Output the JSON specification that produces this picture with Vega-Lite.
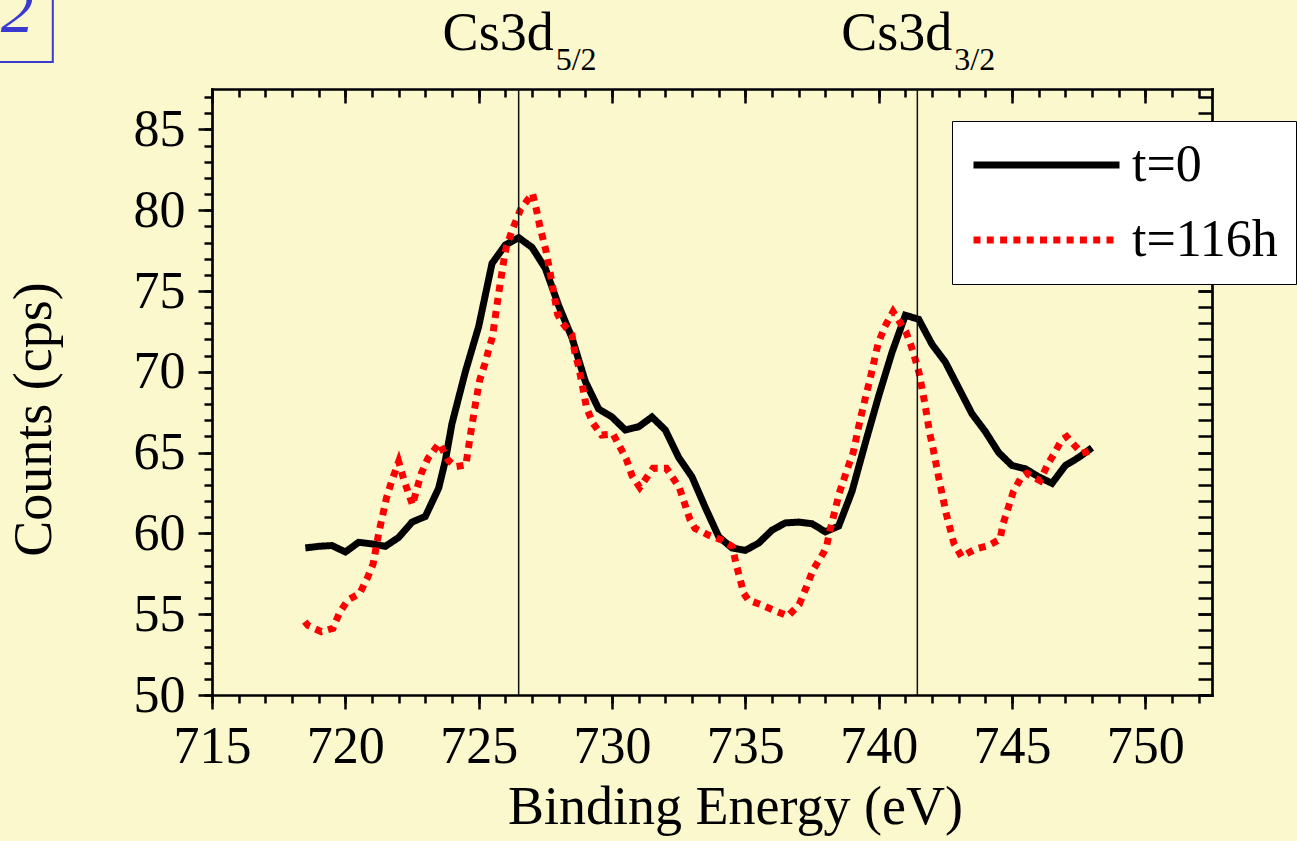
{
  "$schema": "https://vega.github.io/schema/vega-lite/v6.json",
  "width": 1000,
  "height": 606,
  "autosize": {"type": "none"},
  "padding": {"left": 212, "top": 89, "right": 85, "bottom": 146},
  "background": "#FBF8CD",
  "config": {
    "view": {"stroke": null},
    "font": "Liberation Serif",
    "axis": {
      "grid": false,
      "labelFont": "Liberation Serif",
      "titleFont": "Liberation Serif",
      "labelColor": "#000",
      "titleColor": "#000",
      "tickColor": "#000",
      "domainColor": "#000",
      "tickWidth": 2.5,
      "domainWidth": 2.7,
      "domainCap": "square",
      "labelFontSize": 52,
      "titleFontSize": 54,
      "titleFontWeight": "normal",
      "labelFlush": false,
      "labelOverlap": false,
      "labelBound": false
    },
    "legend": {
      "labelFont": "Liberation Serif",
      "labelFontSize": 52,
      "labelColor": "#000",
      "labelLimit": 0
    }
  },
  "datasets": {
    "spectra": [
      {"E": 718.5, "C": 59.1, "series": "t=0"},
      {"E": 719.0, "C": 59.2, "series": "t=0"},
      {"E": 719.5, "C": 59.25, "series": "t=0"},
      {"E": 720.0, "C": 58.85, "series": "t=0"},
      {"E": 720.5, "C": 59.45, "series": "t=0"},
      {"E": 721.0, "C": 59.35, "series": "t=0"},
      {"E": 721.5, "C": 59.2, "series": "t=0"},
      {"E": 722.0, "C": 59.75, "series": "t=0"},
      {"E": 722.5, "C": 60.7, "series": "t=0"},
      {"E": 723.0, "C": 61.05, "series": "t=0"},
      {"E": 723.5, "C": 62.8, "series": "t=0"},
      {"E": 723.75, "C": 64.5, "series": "t=0"},
      {"E": 724.0, "C": 66.8, "series": "t=0"},
      {"E": 724.5, "C": 70.0, "series": "t=0"},
      {"E": 725.0, "C": 72.8, "series": "t=0"},
      {"E": 725.5, "C": 76.7, "series": "t=0"},
      {"E": 726.0, "C": 77.85, "series": "t=0"},
      {"E": 726.5, "C": 78.3, "series": "t=0"},
      {"E": 727.0, "C": 77.7, "series": "t=0"},
      {"E": 727.5, "C": 76.4, "series": "t=0"},
      {"E": 728.0, "C": 74.1, "series": "t=0"},
      {"E": 728.5, "C": 72.1, "series": "t=0"},
      {"E": 729.0, "C": 69.4, "series": "t=0"},
      {"E": 729.5, "C": 67.7, "series": "t=0"},
      {"E": 730.0, "C": 67.2, "series": "t=0"},
      {"E": 730.5, "C": 66.4, "series": "t=0"},
      {"E": 731.0, "C": 66.6, "series": "t=0"},
      {"E": 731.5, "C": 67.2, "series": "t=0"},
      {"E": 732.0, "C": 66.4, "series": "t=0"},
      {"E": 732.5, "C": 64.7, "series": "t=0"},
      {"E": 733.0, "C": 63.5, "series": "t=0"},
      {"E": 733.5, "C": 61.6, "series": "t=0"},
      {"E": 734.0, "C": 59.8, "series": "t=0"},
      {"E": 734.5, "C": 59.1, "series": "t=0"},
      {"E": 735.0, "C": 58.95, "series": "t=0"},
      {"E": 735.5, "C": 59.4, "series": "t=0"},
      {"E": 736.0, "C": 60.2, "series": "t=0"},
      {"E": 736.5, "C": 60.65, "series": "t=0"},
      {"E": 737.0, "C": 60.7, "series": "t=0"},
      {"E": 737.5, "C": 60.6, "series": "t=0"},
      {"E": 738.0, "C": 60.1, "series": "t=0"},
      {"E": 738.5, "C": 60.45, "series": "t=0"},
      {"E": 739.0, "C": 62.6, "series": "t=0"},
      {"E": 739.5, "C": 65.6, "series": "t=0"},
      {"E": 740.0, "C": 68.5, "series": "t=0"},
      {"E": 740.5, "C": 71.2, "series": "t=0"},
      {"E": 741.0, "C": 73.5, "series": "t=0"},
      {"E": 741.5, "C": 73.25, "series": "t=0"},
      {"E": 742.0, "C": 71.7, "series": "t=0"},
      {"E": 742.5, "C": 70.6, "series": "t=0"},
      {"E": 743.0, "C": 69.0, "series": "t=0"},
      {"E": 743.5, "C": 67.4, "series": "t=0"},
      {"E": 744.0, "C": 66.3, "series": "t=0"},
      {"E": 744.5, "C": 65.0, "series": "t=0"},
      {"E": 745.0, "C": 64.2, "series": "t=0"},
      {"E": 745.5, "C": 64.0, "series": "t=0"},
      {"E": 746.0, "C": 63.5, "series": "t=0"},
      {"E": 746.5, "C": 63.1, "series": "t=0"},
      {"E": 747.0, "C": 64.2, "series": "t=0"},
      {"E": 747.5, "C": 64.7, "series": "t=0"},
      {"E": 748.0, "C": 65.3, "series": "t=0"},
      {"E": 718.48, "C": 54.54, "series": "t=116h"},
      {"E": 718.6, "C": 54.3, "series": "t=116h"},
      {"E": 719.1, "C": 53.92, "series": "t=116h"},
      {"E": 719.54, "C": 54.13, "series": "t=116h"},
      {"E": 719.79, "C": 55.12, "series": "t=116h"},
      {"E": 720.1, "C": 55.88, "series": "t=116h"},
      {"E": 720.54, "C": 56.29, "series": "t=116h"},
      {"E": 720.82, "C": 57.22, "series": "t=116h"},
      {"E": 721.04, "C": 58.1, "series": "t=116h"},
      {"E": 721.25, "C": 60.0, "series": "t=116h"},
      {"E": 721.54, "C": 62.17, "series": "t=116h"},
      {"E": 721.73, "C": 63.2, "series": "t=116h"},
      {"E": 722.0, "C": 64.44, "series": "t=116h"},
      {"E": 722.19, "C": 63.35, "series": "t=116h"},
      {"E": 722.52, "C": 61.76, "series": "t=116h"},
      {"E": 722.69, "C": 62.79, "series": "t=116h"},
      {"E": 722.85, "C": 63.72, "series": "t=116h"},
      {"E": 723.1, "C": 64.65, "series": "t=116h"},
      {"E": 723.52, "C": 65.58, "series": "t=116h"},
      {"E": 723.85, "C": 64.54, "series": "t=116h"},
      {"E": 724.14, "C": 64.13, "series": "t=116h"},
      {"E": 724.52, "C": 64.23, "series": "t=116h"},
      {"E": 724.7, "C": 66.19, "series": "t=116h"},
      {"E": 724.89, "C": 68.13, "series": "t=116h"},
      {"E": 725.04, "C": 69.49, "series": "t=116h"},
      {"E": 725.23, "C": 70.48, "series": "t=116h"},
      {"E": 725.39, "C": 71.45, "series": "t=116h"},
      {"E": 725.52, "C": 72.17, "series": "t=116h"},
      {"E": 725.6, "C": 73.14, "series": "t=116h"},
      {"E": 725.77, "C": 75.06, "series": "t=116h"},
      {"E": 725.95, "C": 76.96, "series": "t=116h"},
      {"E": 726.04, "C": 77.74, "series": "t=116h"},
      {"E": 726.25, "C": 78.73, "series": "t=116h"},
      {"E": 726.57, "C": 80.05, "series": "t=116h"},
      {"E": 727.02, "C": 81.04, "series": "t=116h"},
      {"E": 727.17, "C": 80.01, "series": "t=116h"},
      {"E": 727.29, "C": 79.03, "series": "t=116h"},
      {"E": 727.42, "C": 78.16, "series": "t=116h"},
      {"E": 727.54, "C": 77.37, "series": "t=116h"},
      {"E": 727.75, "C": 75.48, "series": "t=116h"},
      {"E": 727.96, "C": 73.56, "series": "t=116h"},
      {"E": 728.1, "C": 73.1, "series": "t=116h"},
      {"E": 728.5, "C": 72.28, "series": "t=116h"},
      {"E": 728.6, "C": 71.24, "series": "t=116h"},
      {"E": 728.75, "C": 70.32, "series": "t=116h"},
      {"E": 728.98, "C": 68.36, "series": "t=116h"},
      {"E": 729.04, "C": 67.8, "series": "t=116h"},
      {"E": 729.29, "C": 66.81, "series": "t=116h"},
      {"E": 729.61, "C": 66.09, "series": "t=116h"},
      {"E": 730.04, "C": 66.15, "series": "t=116h"},
      {"E": 730.36, "C": 65.16, "series": "t=116h"},
      {"E": 730.54, "C": 64.58, "series": "t=116h"},
      {"E": 730.75, "C": 63.57, "series": "t=116h"},
      {"E": 731.04, "C": 62.85, "series": "t=116h"},
      {"E": 731.54, "C": 64.03, "series": "t=116h"},
      {"E": 732.04, "C": 64.03, "series": "t=116h"},
      {"E": 732.52, "C": 62.85, "series": "t=116h"},
      {"E": 732.73, "C": 61.82, "series": "t=116h"},
      {"E": 732.92, "C": 60.87, "series": "t=116h"},
      {"E": 733.11, "C": 60.31, "series": "t=116h"},
      {"E": 733.61, "C": 59.9, "series": "t=116h"},
      {"E": 734.11, "C": 59.59, "series": "t=116h"},
      {"E": 734.52, "C": 59.18, "series": "t=116h"},
      {"E": 734.64, "C": 58.19, "series": "t=116h"},
      {"E": 734.79, "C": 57.26, "series": "t=116h"},
      {"E": 734.94, "C": 56.29, "series": "t=116h"},
      {"E": 735.11, "C": 55.88, "series": "t=116h"},
      {"E": 735.61, "C": 55.57, "series": "t=116h"},
      {"E": 736.04, "C": 55.26, "series": "t=116h"},
      {"E": 736.6, "C": 54.89, "series": "t=116h"},
      {"E": 737.02, "C": 55.6, "series": "t=116h"},
      {"E": 737.27, "C": 56.6, "series": "t=116h"},
      {"E": 737.54, "C": 57.74, "series": "t=116h"},
      {"E": 737.92, "C": 58.77, "series": "t=116h"},
      {"E": 738.05, "C": 59.22, "series": "t=116h"},
      {"E": 738.17, "C": 60.17, "series": "t=116h"},
      {"E": 738.32, "C": 61.14, "series": "t=116h"},
      {"E": 738.52, "C": 62.48, "series": "t=116h"},
      {"E": 738.73, "C": 63.51, "series": "t=116h"},
      {"E": 738.92, "C": 64.44, "series": "t=116h"},
      {"E": 739.04, "C": 64.98, "series": "t=116h"},
      {"E": 739.29, "C": 66.91, "series": "t=116h"},
      {"E": 739.54, "C": 68.66, "series": "t=116h"},
      {"E": 739.67, "C": 69.49, "series": "t=116h"},
      {"E": 739.98, "C": 71.76, "series": "t=116h"},
      {"E": 740.23, "C": 72.79, "series": "t=116h"},
      {"E": 740.54, "C": 73.72, "series": "t=116h"},
      {"E": 741.02, "C": 72.48, "series": "t=116h"},
      {"E": 741.23, "C": 71.55, "series": "t=116h"},
      {"E": 741.42, "C": 70.51, "series": "t=116h"},
      {"E": 741.52, "C": 69.9, "series": "t=116h"},
      {"E": 741.73, "C": 68.05, "series": "t=116h"},
      {"E": 741.92, "C": 66.15, "series": "t=116h"},
      {"E": 742.02, "C": 65.43, "series": "t=116h"},
      {"E": 742.25, "C": 63.47, "series": "t=116h"},
      {"E": 742.52, "C": 61.31, "series": "t=116h"},
      {"E": 742.82, "C": 59.39, "series": "t=116h"},
      {"E": 743.11, "C": 58.56, "series": "t=116h"},
      {"E": 743.61, "C": 59.02, "series": "t=116h"},
      {"E": 744.11, "C": 59.24, "series": "t=116h"},
      {"E": 744.55, "C": 59.64, "series": "t=116h"},
      {"E": 744.67, "C": 60.62, "series": "t=116h"},
      {"E": 744.86, "C": 61.59, "series": "t=116h"},
      {"E": 745.05, "C": 62.58, "series": "t=116h"},
      {"E": 745.36, "C": 63.51, "series": "t=116h"},
      {"E": 745.55, "C": 63.72, "series": "t=116h"},
      {"E": 746.05, "C": 63.26, "series": "t=116h"},
      {"E": 746.36, "C": 64.34, "series": "t=116h"},
      {"E": 746.55, "C": 64.85, "series": "t=116h"},
      {"E": 746.86, "C": 65.78, "series": "t=116h"},
      {"E": 747.05, "C": 65.99, "series": "t=116h"},
      {"E": 747.61, "C": 64.96, "series": "t=116h"},
      {"E": 747.98, "C": 65.12, "series": "t=116h"}
    ],
    "peaks": [
      {"E": 726.5, "level": "Cs3d", "j": "5/2"},
      {"E": 741.45, "level": "Cs3d", "j": "3/2"}
    ],
    "panel": [
      {"label": "2"}
    ]
  },
  "layer": [
    {
      "data": {"name": "spectra"},
      "mark": {"type": "line", "strokeWidth": 7, "strokeCap": "butt"},
      "encoding": {
        "x": {
          "field": "E", "type": "quantitative",
          "scale": {"domain": [715, 752.5], "nice": false, "zero": false},
          "axis": {
            "orient": "bottom",
            "values": [715, 720, 725, 730, 735, 740, 745, 750],
            "format": "d",
            "tickSize": 14,
            "labelPadding": 12,
            "title": "Binding Energy (eV)",
            "titleX": 523,
            "titleY": 128,
            "titleAlign": "center",
            "titleBaseline": "alphabetic"
          }
        },
        "y": {
          "field": "C", "type": "quantitative",
          "scale": {"domain": [50, 87.5], "nice": false, "zero": false},
          "axis": {
            "orient": "left",
            "values": [50, 55, 60, 65, 70, 75, 80, 85],
            "format": "d",
            "tickSize": 14,
            "labelPadding": 13,
            "title": "Counts (cps)",
            "titleX": -162,
            "titleY": 330,
            "titleAngle": 270,
            "titleAlign": "center",
            "titleBaseline": "alphabetic"
          }
        },
        "color": {
          "field": "series", "type": "nominal",
          "scale": {"domain": ["t=0", "t=116h"], "range": ["#000000", "#FF0000"]},
          "legend": {
            "title": null,
            "orient": "none",
            "legendX": 740,
            "legendY": 32,
            "direction": "vertical",
            "fillColor": "#FFFFFF",
            "strokeColor": "#000000",
            "padding": 18,
            "symbolType": "stroke",
            "symbolSize": 21316,
            "symbolStrokeWidth": 7,
            "clipHeight": 52,
            "rowPadding": 23,
            "labelOffset": 9
          }
        },
        "strokeDash": {
          "field": "series", "type": "nominal",
          "scale": {"domain": ["t=0", "t=116h"], "range": [[1, 0], [7, 6.3]]},
          "legend": {
            "title": null,
            "orient": "none",
            "legendX": 740,
            "legendY": 32,
            "direction": "vertical",
            "fillColor": "#FFFFFF",
            "strokeColor": "#000000",
            "padding": 18,
            "symbolType": "stroke",
            "symbolSize": 21316,
            "symbolStrokeWidth": 7,
            "clipHeight": 52,
            "rowPadding": 23,
            "labelOffset": 9
          }
        }
      }
    },
    {
      "data": {"name": "peaks"},
      "mark": {"type": "rule", "color": "#111111", "strokeWidth": 1.5},
      "encoding": {
        "x": {
          "field": "E", "type": "quantitative",
          "scale": {"domain": [715, 752.5], "nice": false, "zero": false},
          "axis": {
            "orient": "top",
            "values": [715, 720, 725, 730, 735, 740, 745, 750],
            "tickSize": -14,
            "labels": false,
            "title": null
          }
        },
        "y": {
          "datum": 50, "type": "quantitative",
          "scale": {"domain": [50, 87.5], "nice": false, "zero": false},
          "axis": {
            "orient": "right",
            "values": [50, 55, 60, 65, 70, 75, 80, 85],
            "tickSize": -14,
            "labels": false,
            "title": null
          }
        },
        "y2": {"datum": 87.5}
      }
    },
    {
      "data": {"name": "peaks"},
      "mark": {"type": "text", "align": "right", "baseline": "alphabetic", "dx": 35, "fontSize": 54, "font": "Liberation Serif", "color": "#000000"},
      "encoding": {
        "x": {
          "field": "E", "type": "quantitative",
          "scale": {"domain": [715, 752.5], "nice": false, "zero": false},
          "axis": {
            "orient": "top",
            "values": [715, 716, 717, 718, 719, 720, 721, 722, 723, 724, 725, 726, 727, 728, 729, 730, 731, 732, 733, 734, 735, 736, 737, 738, 739, 740, 741, 742, 743, 744, 745, 746, 747, 748, 749, 750, 751, 752],
            "tickSize": -8,
            "labels": false,
            "domain": false,
            "title": null
          }
        },
        "y": {
          "datum": 89.9, "type": "quantitative",
          "scale": {"domain": [50, 87.5], "nice": false, "zero": false},
          "axis": {
            "orient": "right",
            "values": [50, 51, 52, 53, 54, 55, 56, 57, 58, 59, 60, 61, 62, 63, 64, 65, 66, 67, 68, 69, 70, 71, 72, 73, 74, 75, 76, 77, 78, 79, 80, 81, 82, 83, 84, 85, 86, 87],
            "tickSize": -14,
            "labels": false,
            "domain": false,
            "title": null
          }
        },
        "text": {"field": "level"}
      }
    },
    {
      "data": {"name": "peaks"},
      "mark": {"type": "text", "align": "left", "baseline": "alphabetic", "dx": 37, "fontSize": 32, "font": "Liberation Serif", "color": "#000000"},
      "encoding": {
        "x": {
          "field": "E", "type": "quantitative",
          "scale": {"domain": [715, 752.5], "nice": false, "zero": false},
          "axis": {
            "orient": "bottom",
            "values": [715, 716, 717, 718, 719, 720, 721, 722, 723, 724, 725, 726, 727, 728, 729, 730, 731, 732, 733, 734, 735, 736, 737, 738, 739, 740, 741, 742, 743, 744, 745, 746, 747, 748, 749, 750, 751, 752],
            "tickSize": 8,
            "labels": false,
            "domain": false,
            "title": null
          }
        },
        "y": {
          "datum": 88.65, "type": "quantitative",
          "scale": {"domain": [50, 87.5], "nice": false, "zero": false},
          "axis": {
            "orient": "left",
            "values": [50, 51, 52, 53, 54, 55, 56, 57, 58, 59, 60, 61, 62, 63, 64, 65, 66, 67, 68, 69, 70, 71, 72, 73, 74, 75, 76, 77, 78, 79, 80, 81, 82, 83, 84, 85, 86, 87],
            "tickSize": 8,
            "labels": false,
            "domain": false,
            "title": null
          }
        },
        "text": {"field": "j"}
      }
    },
    {
      "data": {"name": "panel"},
      "mark": {"type": "rect", "fill": null, "fillOpacity": 0, "stroke": "#3A3AD0", "strokeWidth": 2},
      "encoding": {
        "x": {"datum": 700, "type": "quantitative", "scale": {"domain": [715, 752.5], "nice": false, "zero": false}, "axis": null},
        "x2": {"datum": 709.03},
        "y": {"datum": 89.17, "type": "quantitative", "scale": {"domain": [50, 87.5], "nice": false, "zero": false}, "axis": null},
        "y2": {"datum": 95}
      }
    },
    {
      "data": {"name": "panel"},
      "mark": {"type": "text", "align": "center", "baseline": "alphabetic", "fontSize": 66, "font": "Liberation Serif", "fontStyle": "italic", "color": "#3A3AD0"},
      "encoding": {
        "x": {"datum": 707.7, "type": "quantitative", "scale": {"domain": [715, 752.5], "nice": false, "zero": false}, "axis": null},
        "y": {"datum": 91.03, "type": "quantitative", "scale": {"domain": [50, 87.5], "nice": false, "zero": false}, "axis": null},
        "text": {"field": "label"}
      }
    }
  ],
  "resolve": {"axis": {"x": "independent", "y": "independent"}}
}
